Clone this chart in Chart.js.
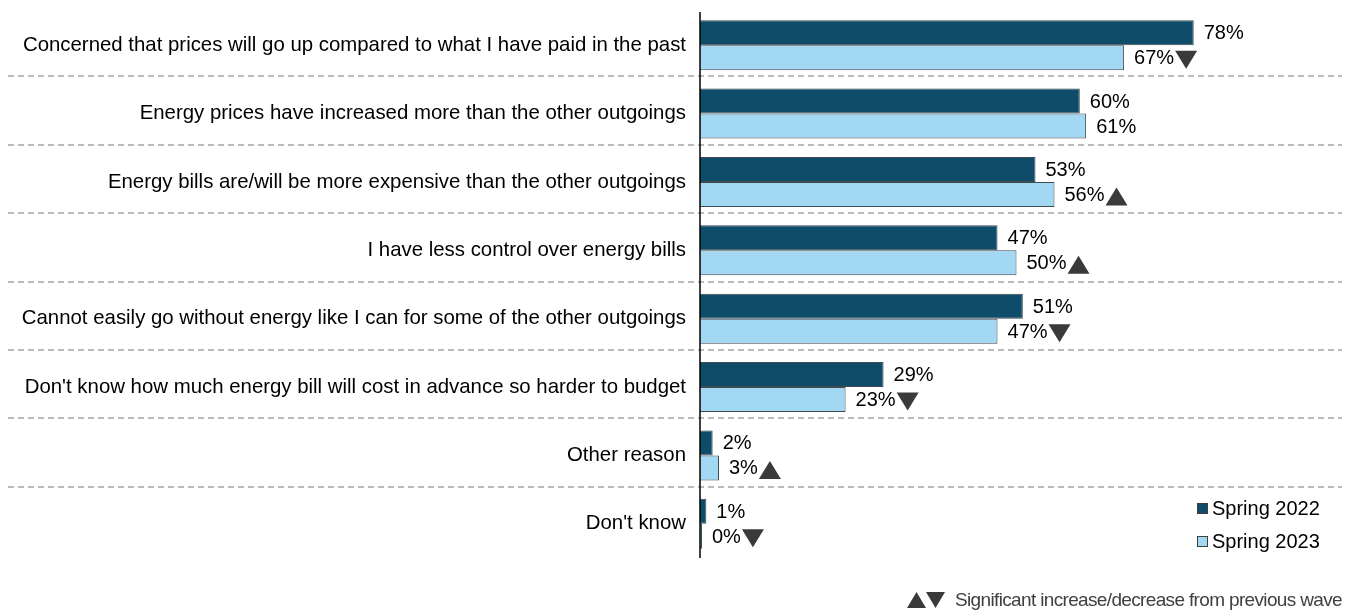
<!DOCTYPE html>
<html>
<head>
<meta charset="utf-8">
<script src="https://cdn.jsdelivr.net/npm/chart.js@4.4.1/dist/chart.umd.min.js"></script>
<style>
  html, body { margin: 0; padding: 0; background: #ffffff; }
  #wrap { position: relative; width: 1346px; height: 610px; }
</style>
</head>
<body>
<div id="wrap"><canvas id="c" width="1346" height="610"></canvas></div>
<script>
const categories = [
  "Concerned that prices will go up compared to what I have paid in the past",
  "Energy prices have increased more than the other outgoings",
  "Energy bills are/will be more expensive than the other outgoings",
  "I have less control over energy bills",
  "Cannot easily go without energy like I can for some of the other outgoings",
  "Don't know how much energy bill will cost in advance so harder to budget",
  "Other reason",
  "Don't know"
];
const spring2022 = [78, 60, 53, 47, 51, 29, 2, 1];
const spring2023 = [67, 61, 56, 50, 47, 23, 3, 0];
// change flags for Spring 2023 vs previous wave: 1 = up, -1 = down, 0 = none
const change2023 = [-1, 0, 1, 1, -1, -1, 1, -1];
const seriesNames = ["Spring 2022", "Spring 2023"];
const footnote = "Significant increase/decrease from previous wave";

const FONT = "'Liberation Sans', Arial, sans-serif";
const DARK = "#0f4c6a";
const LIGHT = "#a3d8f2";
const EDGE = "#3f4a52";
const MARK = "#3a3a3a";

function triangle(ctx, x, yc, dir, w, h) {
  ctx.beginPath();
  if (dir > 0) {
    ctx.moveTo(x, yc + h / 2);
    ctx.lineTo(x + w, yc + h / 2);
    ctx.lineTo(x + w / 2, yc - h / 2);
  } else {
    ctx.moveTo(x, yc - h / 2);
    ctx.lineTo(x + w, yc - h / 2);
    ctx.lineTo(x + w / 2, yc + h / 2);
  }
  ctx.closePath();
  ctx.fillStyle = MARK;
  ctx.fill();
}

const decor = {
  id: "decor",
  beforeDatasetsDraw(chart) {
    const ctx = chart.ctx;
    const y = chart.scales.y;
    ctx.save();
    ctx.strokeStyle = "#a6a6a6";
    ctx.lineWidth = 1.5;
    ctx.setLineDash([6, 4]);
    for (let i = 0; i < categories.length - 1; i++) {
      const yy = Math.round((y.getPixelForValue(i) + y.getPixelForValue(i + 1)) / 2) - 3;
      ctx.beginPath();
      ctx.moveTo(8, yy);
      ctx.lineTo(1342, yy);
      ctx.stroke();
    }
    ctx.restore();
  },
  afterDatasetsDraw(chart) {
    const ctx = chart.ctx;
    const area = chart.chartArea;
    ctx.save();
    // value axis baseline
    ctx.strokeStyle = "#000000";
    ctx.lineWidth = 1.5;
    ctx.beginPath();
    ctx.moveTo(area.left, area.top + 1);
    ctx.lineTo(area.left, area.bottom);
    ctx.stroke();

    // value labels and change markers
    ctx.font = "20px " + FONT;
    ctx.textBaseline = "middle";
    ctx.textAlign = "left";
    chart.data.datasets.forEach((ds, di) => {
      const meta = chart.getDatasetMeta(di);
      meta.data.forEach((bar, i) => {
        const txt = ds.data[i] + "%";
        const x = bar.x + 10;
        ctx.fillStyle = "#000000";
        ctx.fillText(txt, x, bar.y + 1);
        if (di === 1 && change2023[i] !== 0) {
          const w = ctx.measureText(txt).width;
          triangle(ctx, x + w + 1, bar.y + 2, change2023[i], 22, 18);
        }
      });
    });

    // legend
    const lx = 1197, ly = [509, 542];
    const cols = [DARK, LIGHT];
    for (let k = 0; k < 2; k++) {
      ctx.fillStyle = cols[k];
      ctx.fillRect(lx, ly[k] - 6, 11, 11);
      ctx.strokeStyle = "#404040";
      ctx.lineWidth = 1;
      ctx.strokeRect(lx + 0.5, ly[k] - 5.5, 10, 10);
      ctx.fillStyle = "#000000";
      ctx.fillText(seriesNames[k], lx + 15, ly[k]);
    }

    // footnote
    triangle(ctx, 907, 600, 1, 19, 16);
    triangle(ctx, 926, 600, -1, 19, 16);
    ctx.fillStyle = "#404040";
    ctx.font = "19px " + FONT;
    ctx.letterSpacing = "-0.65px";
    ctx.fillText(footnote, 955, 601);
    ctx.restore();
  }
};

new Chart(document.getElementById("c"), {
  type: "bar",
  data: {
    labels: categories,
    datasets: [
      { label: seriesNames[0], data: spring2022, backgroundColor: DARK, borderColor: EDGE, borderWidth: 1, borderSkipped: "left" },
      { label: seriesNames[1], data: spring2023, backgroundColor: LIGHT, borderColor: EDGE, borderWidth: 1, borderSkipped: "left", minBarLength: 2 }
    ]
  },
  options: {
    indexAxis: "y",
    responsive: false,
    animation: false,
    events: [],
    layout: { padding: { top: 11, bottom: 52, left: 0, right: 13 } },
    datasets: { bar: { categoryPercentage: 0.73, barPercentage: 1.0 } },
    scales: {
      x: { display: false, min: 0, max: 100 },
      y: {
        grid: { display: false, drawTicks: false },
        border: { display: false },
        afterFit(scale) {
          scale.width = 700;
          scale.paddingTop = 0;
          scale.paddingBottom = 0;
        },
        ticks: { color: "#000000", padding: 14, font: { family: FONT, size: 20.4 }, autoSkip: false }
      }
    },
    plugins: { legend: { display: false }, tooltip: { enabled: false } }
  },
  plugins: [decor]
});
</script>
</body>
</html>
